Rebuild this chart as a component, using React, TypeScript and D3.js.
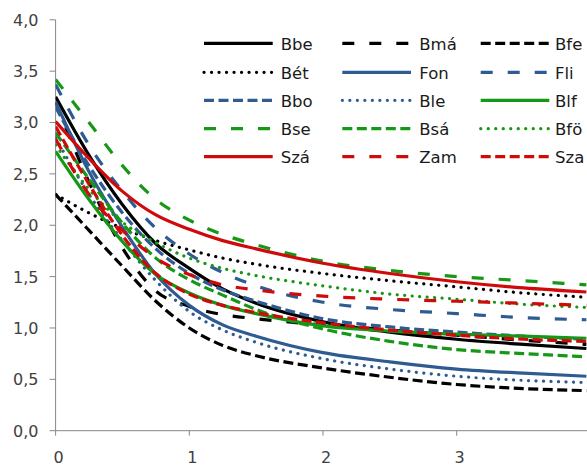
import React from "react";
import * as d3 from "d3";

const xValues = [0, 0.25, 0.5, 0.75, 1, 1.25, 1.5, 2, 2.5, 3, 3.5, 3.97];

const Bbe = [3.25, 2.68, 2.2, 1.82, 1.58, 1.38, 1.24, 1.06, 0.96, 0.89, 0.84, 0.8];
const Bma = [3.2, 2.42, 1.78, 1.36, 1.21, 1.13, 1.09, 1.03, 0.98, 0.93, 0.88, 0.84];
const Bfe = [2.3, 1.95, 1.6, 1.26, 1.0, 0.83, 0.73, 0.61, 0.52, 0.45, 0.41, 0.39];
const Bet = [2.3, 2.12, 1.97, 1.85, 1.76, 1.68, 1.62, 1.53, 1.46, 1.4, 1.34, 1.3];
const Fon = [3.2, 2.52, 1.98, 1.52, 1.22, 1.03, 0.92, 0.76, 0.67, 0.6, 0.56, 0.53];
const Fli = [3.37, 2.78, 2.33, 1.97, 1.72, 1.54, 1.41, 1.25, 1.18, 1.14, 1.1, 1.08];
const Bbo = [3.15, 2.58, 2.12, 1.77, 1.53, 1.37, 1.26, 1.09, 1.01, 0.96, 0.92, 0.89];
const Ble = [2.85, 2.3, 1.85, 1.46, 1.16, 0.98, 0.86, 0.7, 0.6, 0.53, 0.49, 0.47];
const Blf = [2.72, 2.25, 1.84, 1.52, 1.34, 1.22, 1.14, 1.02, 0.97, 0.94, 0.92, 0.9];
const Bse = [3.42, 3.0, 2.58, 2.25, 2.05, 1.91, 1.81, 1.65, 1.56, 1.5, 1.46, 1.42];
const Bsa = [2.9, 2.45, 2.02, 1.68, 1.47, 1.32, 1.18, 0.99, 0.87, 0.79, 0.75, 0.72];
const Bfo = [2.78, 2.35, 2.03, 1.83, 1.68, 1.58, 1.51, 1.41, 1.33, 1.28, 1.23, 1.2];
const Sza1 = [3.01, 2.65, 2.33, 2.1, 1.96, 1.85, 1.77, 1.63, 1.53, 1.45, 1.39, 1.35];
const Zam = [2.84, 2.3, 1.95, 1.68, 1.52, 1.42, 1.37, 1.31, 1.28, 1.26, 1.24, 1.22];
const Sza2 = [2.96, 2.4, 1.9, 1.53, 1.33, 1.22, 1.15, 1.05, 0.98, 0.93, 0.89, 0.87];

const seriesNames = ["Bbe", "Bmá", "Bfe", "Bét", "Fon", "Fli", "Bbo", "Ble", "Blf", "Bse", "Bsá", "Bfö", "Szá", "Zam", "Sza"];
const seriesValues = [Bbe, Bma, Bfe, Bet, Fon, Fli, Bbo, Ble, Blf, Bse, Bsa, Bfo, Sza1, Zam, Sza2];

const yTicks = [0, 0.5, 1, 1.5, 2, 2.5, 3, 3.5, 4];
const xTicks = [0, 1, 2, 3];

const BLACK = "#000000";
const BLUE = "#2f5b93";
const GREEN = "#169816";
const RED = "#cf0a0a";
const colors = [BLACK, BLACK, BLACK, BLACK, BLUE, BLUE, BLUE, BLUE, GREEN, GREEN, GREEN, GREEN, RED, RED, RED];
// style: s = solid, l = long dash, d = short dash, o = dotted
const styles = ["s", "l", "d", "o", "s", "l", "d", "o", "s", "l", "d", "o", "s", "l", "d"];

function dashFor(s: string) {
  if (s === "l") return "12 15";
  if (s === "d") return "10 4.5";
  if (s === "o") return "0.1 7.4";
  return undefined;
}

export default function App() {
  const W = 587;
  const H = 468;
  const x = d3.scaleLinear().domain([0, 4]).range([55.6, 590.4]);
  const y = d3.scaleLinear().domain([0, 4]).range([430.7, 19.8]);
  const line = d3
    .line<number>()
    .x((_, i) => x(xValues[i]))
    .y((v) => y(v))
    .curve(d3.curveMonotoneX);
  const fmt = (v: number) => d3.format(".1f")(v).replace(".", ",");
  const axisColor = "#868686";
  const textColor = "#404040";

  const legendRows = [43.3, 72.3, 100.3, 128.7, 156.7];
  const legendCols = [
    { x1: 204, x2: 272.7, tx: 280.7 },
    { x1: 342.3, x2: 411, tx: 419.3 },
    { x1: 480.7, x2: 549.3, tx: 555 },
  ];

  return (
    <svg
      width={W}
      height={H}
      style={{ position: "absolute", left: 0, top: 0, background: "#fff" }}
      fontFamily="'DejaVu Sans', Verdana, sans-serif"
    >
      <rect x={0} y={0} width={W} height={H} fill="#fff" />
      <line x1={x(0)} x2={x(0)} y1={y(4)} y2={y(0)} stroke={axisColor} strokeWidth={1} />
      <line x1={x(0)} x2={W} y1={y(0)} y2={y(0)} stroke={axisColor} strokeWidth={1} />
      {yTicks.map((t) => (
        <g key={"y" + t}>
          <line x1={x(0) - 6} x2={x(0)} y1={y(t)} y2={y(t)} stroke={axisColor} strokeWidth={1} />
          <text x={38.5} y={y(t) + 5.9} textAnchor="end" fontSize={16} fill={textColor}>
            {fmt(t)}
          </text>
        </g>
      ))}
      {xTicks.map((t) => (
        <g key={"x" + t}>
          <line x1={x(t)} x2={x(t)} y1={y(0)} y2={y(0) + 5} stroke={axisColor} strokeWidth={1} />
          <text x={x(t) + 3} y={462.8} textAnchor="middle" fontSize={16} fill={textColor}>
            {String(t)}
          </text>
        </g>
      ))}
      <defs>
        <clipPath id="plotclip">
          <rect x={x(0)} y={0} width={W - x(0)} height={y(0)} />
        </clipPath>
      </defs>
      <g clipPath="url(#plotclip)">
        {seriesValues.map((vals, i) => (
          <path
            key={seriesNames[i]}
            d={line(vals) || ""}
            fill="none"
            stroke={colors[i]}
            strokeWidth={3.2}
            strokeDasharray={dashFor(styles[i])}
            strokeLinecap={styles[i] === "o" ? "round" : "butt"}
          />
        ))}
      </g>
      {seriesNames.map((name, i) => {
        const r = Math.floor(i / 3);
        const c = i % 3;
        const col = legendCols[c];
        const ry = legendRows[r];
        return (
          <g key={"lg" + name}>
            <line
              x1={col.x1}
              x2={col.x2}
              y1={ry}
              y2={ry}
              stroke={colors[i]}
              strokeWidth={3.2}
              strokeDasharray={dashFor(styles[i])}
              strokeLinecap={styles[i] === "o" ? "round" : "butt"}
            />
            <text x={col.tx} y={ry + 6.2} fontSize={16.5} fill="#1a1a1a">
              {name}
            </text>
          </g>
        );
      })}
    </svg>
  );
}
